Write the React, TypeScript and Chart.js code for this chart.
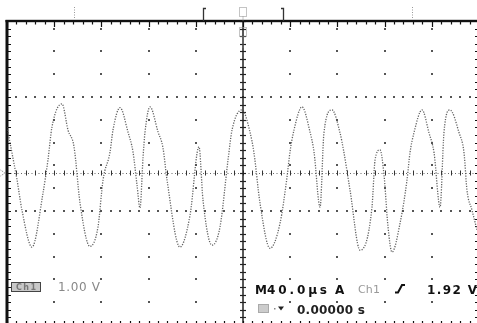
import React, { useEffect, useRef } from 'react';
import { Chart, registerables } from 'chart.js';

Chart.register(...registerables);

// ---- data (time in µs, 40 µs/div; voltage in V, 1 V/div) ----
const timeUs = [
  -200, -195.8, -191.5, -187.3, -178.8, -169.5, -165.3, -161.9, -153.4, -148.3, -143.2, -138.1,
  -129.7, -122.9, -118.6, -112.7, -110.2, -104.2, -97.5, -93.2, -89.8, -87.3,
  -84.7, -83.1, -78.8, -72.0, -67.8, -64.4, -53.4, -44.9, -37.3, -33.9,
  -26.3, -19.5, -12.7, -9.3, -0.8, 5.9, 9.3, 14.4, 22.9, 31.4,
  37.3, 39.8, 43.2, 50.0, 56.8, 60.2, 65.3, 68.6, 75.4, 82.2,
  85.6, 90.7, 99.2, 109.3, 111.9, 116.1, 119.5, 122.9, 126.3, 133.1,
  139.0, 141.5, 144.9, 151.7, 157.6, 161.9, 167.0, 170.3, 175.4, 183.1,
  187.3, 189.8, 194.1, 198.3,
];
const volts = [
  1.21, 0.53, -0.18, -0.98, -1.95, -0.53, 0.34, 1.21, 1.82, 1.13, 0.69, -0.79,
  -1.93, -1.42, -0.18, 0.55, 1.13, 1.72, 1.08, 0.55, -0.32, -0.92,
  0.42, 1.06, 1.74, 1.08, 0.66, -0.18, -1.95, -1.11, 0.69, -0.71,
  -1.9, -1.42, 0.34, 1.13, 1.66, 1.08, 0.53, -0.79, -1.98, -1.32,
  -0.11, 0.55, 1.13, 1.74, 1.08, 0.55, -0.9, 1.06, 1.66, 1.06,
  0.53, -0.45, -2.03, -0.9, 0.34, 0.61, -0.05, -1.42, -2.08, -1.32,
  -0.18, 0.53, 1.06, 1.66, 1.06, 0.53, -0.9, 1.06, 1.66, 1.06,
  0.53, -0.45, -0.98, -1.5,
];

// graticule
const xGridUs = [-200, -160, -120, -80, -40, 0, 40, 80, 120, 160, 200];
const yGridV = [-4, -3, -2, -1, 0, 1, 2, 3, 4];
const verticalDotsV = [-4, -3.4, -2.8, -2.2, -1.6, -1, -0.4, 0.2, 0.8, 1.4, 2, 2.6, 3.2, 3.8];
const dottedRowsV = [2, -1];
const xMinorUs = 8;
const yMinorV = 0.2;
const cursorsUs = [-143, 143];
const bracketsUs = [-33.5, 34];

// readouts
const chLabel = 'Ch1';
const voltsPerDiv = '1.00 V';
const timebaseM = 'M';
const timebase = '40.0µs';
const trigMode = 'A';
const trigSource = 'Ch1';
const trigLevel = '1.92 V';
const trigPos = '0.00000 s';

// draws text so that it spans exactly `width` px
function spaced(ctx: CanvasRenderingContext2D, s: string, x: number, y: number, width: number) {
  const chars = [...s];
  const ws = chars.map((c) => ctx.measureText(c).width);
  const nat = ws.reduce((a, b) => a + b, 0);
  const extra = chars.length > 1 ? (width - nat) / (chars.length - 1) : 0;
  let cx = x;
  chars.forEach((c, i) => {
    ctx.fillText(c, cx, y);
    cx += ws[i] + extra;
  });
}

const scopePlugin = {
  id: 'scope',
  beforeDatasetsDraw(chart: any) {
    const { ctx } = chart;
    const xs = chart.scales.x;
    const ys = chart.scales.y;
    const X = (v: number) => xs.getPixelForValue(v);
    const Y = (v: number) => ys.getPixelForValue(v);
    const x0 = X(0), y0 = Y(0);
    const left = X(-200), right = X(200), top = Y(4), bottom = Y(-4);
    ctx.save();

    // vertical division dots
    ctx.fillStyle = '#555';
    xGridUs.forEach((g) => {
      if (g === -200 || g === 0 || g === 200) return;
      const px = Math.round(X(g));
      verticalDotsV.forEach((v) => ctx.fillRect(px - 1, Math.round(Y(v)) - 1, 2, 2));
    });
    // dotted rows
    dottedRowsV.forEach((v) => {
      const py = Math.round(Y(v));
      for (let t = -200; t <= 200; t += xMinorUs) ctx.fillRect(Math.round(X(t)) - 1, py - 1, 2, 2);
    });

    // center horizontal axis
    ctx.strokeStyle = '#666';
    ctx.lineWidth = 1;
    ctx.setLineDash([1, 2.5]);
    ctx.beginPath();
    ctx.moveTo(left, Math.round(y0) + 0.5);
    ctx.lineTo(right, Math.round(y0) + 0.5);
    ctx.stroke();
    ctx.setLineDash([]);
    ctx.strokeStyle = '#333';
    ctx.lineWidth = 1;
    for (let t = -200; t <= 200; t += xMinorUs) {
      const px = Math.round(X(t)) + 0.5;
      ctx.beginPath();
      ctx.moveTo(px, y0 - 2.5);
      ctx.lineTo(px, y0 + 2.5);
      ctx.stroke();
    }
    // center vertical axis
    ctx.strokeStyle = '#222';
    ctx.lineWidth = 1.5;
    ctx.beginPath();
    ctx.moveTo(x0, top);
    ctx.lineTo(x0, bottom);
    ctx.stroke();
    ctx.lineWidth = 1.2;
    for (let v = -4; v <= 4.001; v += yMinorV) {
      const py = Math.round(Y(v)) + 0.5;
      ctx.beginPath();
      ctx.moveTo(x0 - 3, py);
      ctx.lineTo(x0 + 3, py);
      ctx.stroke();
    }

    // border
    ctx.strokeStyle = '#111';
    ctx.lineWidth = 1.2;
    for (let v = -4; v <= 4.001; v += yMinorV) {
      const py = Math.round(Y(v)) + 0.5;
      ctx.beginPath();
      ctx.moveTo(left, py);
      ctx.lineTo(left + 4, py);
      ctx.moveTo(right, py);
      ctx.lineTo(right - 4, py);
      ctx.stroke();
    }
    for (let t = -200; t <= 200; t += xMinorUs) {
      const px = Math.round(X(t)) + 0.5;
      const major = xGridUs.includes(t);
      ctx.beginPath();
      ctx.moveTo(px, top);
      ctx.lineTo(px, top + (major ? 6 : 3.5));
      ctx.moveTo(px, bottom);
      ctx.lineTo(px, bottom - 4);
      ctx.stroke();
    }
    ctx.fillStyle = '#111';
    ctx.fillRect(left - 1.5, top - 1, 3, bottom - top + 2);
    ctx.fillRect(left - 1.5, top - 1.2, right - left + 3, 2.4);

    // cursors and record brackets above the graticule
    ctx.strokeStyle = '#999';
    ctx.lineWidth = 1;
    ctx.setLineDash([1, 1.5]);
    cursorsUs.forEach((c) => {
      const px = Math.round(X(c)) + 0.5;
      ctx.beginPath();
      ctx.moveTo(px, 7);
      ctx.lineTo(px, top - 2);
      ctx.stroke();
    });
    ctx.setLineDash([]);
    ctx.strokeStyle = '#333';
    ctx.lineWidth = 1.3;
    bracketsUs.forEach((b, i) => {
      const px = Math.round(X(b)) + 0.5;
      const dir = i === 0 ? 1 : -1;
      ctx.beginPath();
      ctx.moveTo(px + dir * 2.5, 8.5);
      ctx.lineTo(px, 8.5);
      ctx.lineTo(px, top);
      ctx.stroke();
    });

    // trigger position marker
    ctx.strokeStyle = '#888';
    ctx.lineWidth = 1;
    ctx.setLineDash([1, 1]);
    ctx.strokeRect(x0 - 3.5, 7.5, 7, 9);
    ctx.beginPath();
    ctx.moveTo(x0, 16.5);
    ctx.lineTo(x0, top);
    ctx.stroke();
    ctx.strokeRect(x0 - 3.5, 27.5, 7, 9);
    ctx.beginPath();
    ctx.moveTo(x0, 36.5);
    ctx.lineTo(x0, 48);
    ctx.stroke();
    // ground marker
    ctx.beginPath();
    ctx.moveTo(0.5, y0 - 3);
    ctx.lineTo(5, y0);
    ctx.lineTo(0.5, y0 + 3);
    ctx.stroke();
    ctx.setLineDash([]);
    ctx.restore();
  },
  afterDatasetsDraw(chart: any) {
    const { ctx } = chart;
    ctx.save();
    ctx.textBaseline = 'alphabetic';
    // channel box
    ctx.fillStyle = '#c8c8c8';
    ctx.fillRect(11, 282, 30, 10);
    ctx.strokeStyle = '#444';
    ctx.lineWidth = 1;
    ctx.strokeRect(11.5, 282.5, 29, 9);
    ctx.fillStyle = '#777';
    ctx.font = 'bold 8px "DejaVu Sans"';
    spaced(ctx, chLabel, 16, 290, 20);
    ctx.fillStyle = '#888';
    ctx.font = '12px "DejaVu Sans"';
    spaced(ctx, voltsPerDiv, 58, 291, 42);

    // right readout line 1
    ctx.fillStyle = '#111';
    ctx.font = 'bold 12px "DejaVu Sans"';
    ctx.fillText(timebaseM, 255, 293.5);
    spaced(ctx, timebase, 267, 293.5, 60);
    ctx.fillText(trigMode, 335, 293.5);
    ctx.fillStyle = '#999';
    ctx.font = '11px "DejaVu Sans"';
    spaced(ctx, trigSource, 358, 293, 22);
    ctx.fillStyle = '#111';
    ctx.font = 'bold 12px "DejaVu Sans"';
    spaced(ctx, trigLevel, 427, 293.5, 50);
    // slope symbol
    ctx.strokeStyle = '#111';
    ctx.lineWidth = 2;
    ctx.beginPath();
    ctx.moveTo(395, 292.5);
    ctx.lineTo(398, 292.5);
    ctx.lineTo(402, 285);
    ctx.lineTo(405, 285);
    ctx.stroke();

    // line 2
    ctx.fillStyle = '#ccc';
    ctx.fillRect(258, 304, 11, 9);
    ctx.strokeStyle = '#888';
    ctx.lineWidth = 1;
    ctx.setLineDash([1, 1]);
    ctx.strokeRect(258.5, 304.5, 10, 8);
    ctx.setLineDash([]);
    ctx.fillStyle = '#888';
    ctx.fillRect(274, 308, 1.5, 1.5);
    ctx.fillStyle = '#222';
    ctx.beginPath();
    ctx.moveTo(278, 306.5);
    ctx.lineTo(284, 306.5);
    ctx.lineTo(281, 310.5);
    ctx.closePath();
    ctx.fill();
    ctx.font = 'bold 12px "DejaVu Sans"';
    spaced(ctx, trigPos, 297, 313.5, 68);
    ctx.restore();
  },
};

export default function App() {
  const ref = useRef<HTMLCanvasElement | null>(null);
  useEffect(() => {
    if (!ref.current) return;
    const chart = new Chart(ref.current, {
      type: 'line',
      data: {
        datasets: [
          {
            data: timeUs.map((t, i) => ({ x: t, y: volts[i] })),
            borderColor: 'rgba(80,80,80,0.9)',
            borderWidth: 1.3,
            borderDash: [1.2, 1.4],
            pointRadius: 0,
            cubicInterpolationMode: 'monotone',
            fill: false,
          },
        ],
      },
      options: {
        animation: false,
        responsive: false,
        devicePixelRatio: 1,
        layout: { padding: { left: 7, top: 21, right: 0, bottom: 0 } },
        scales: {
          x: { type: 'linear', min: -200, max: 198.3, display: false },
          y: { type: 'linear', min: -3.947, max: 4, display: false },
        },
        plugins: { legend: { display: false }, tooltip: { enabled: false } },
      },
      plugins: [scopePlugin],
    });
    return () => chart.destroy();
  }, []);
  return (
    <div style={{ position: 'fixed', left: 0, top: 0, width: 477, height: 323, background: '#fff' }}>
      <canvas ref={ref} width={477} height={323} style={{ display: 'block' }} />
    </div>
  );
}
